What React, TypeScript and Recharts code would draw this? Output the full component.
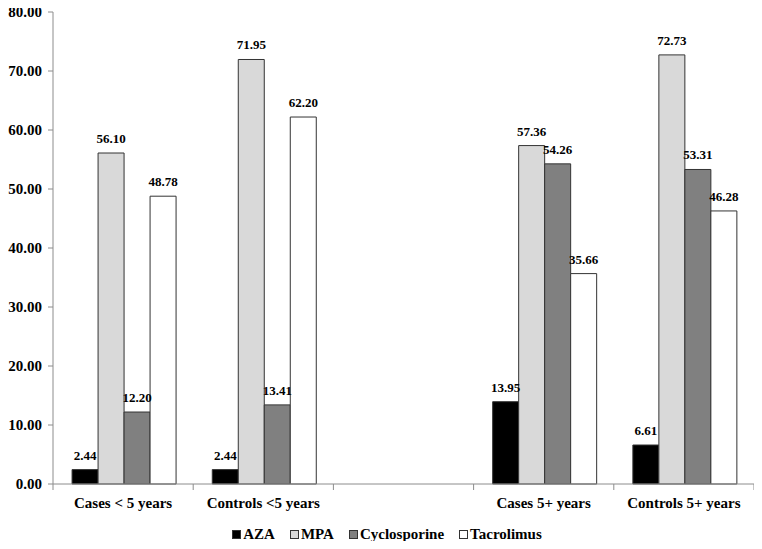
import React from "react";
import { BarChart, Bar, XAxis, YAxis, Legend, LabelList } from "recharts";

const categories = ["Cases < 5 years", "Controls <5 years", "", "Cases 5+ years", "Controls 5+ years"];
const aza = [2.44, 2.44, null, 13.95, 6.61];
const mpa = [56.1, 71.95, null, 57.36, 72.73];
const cyclosporine = [12.2, 13.41, null, 54.26, 53.31];
const tacrolimus = [48.78, 62.2, null, 35.66, 46.28];
const yTicks = [0, 10, 20, 30, 40, 50, 60, 70, 80];

const series = [
  { key: "AZA", fill: "#000000" },
  { key: "MPA", fill: "#d9d9d9" },
  { key: "Cyclosporine", fill: "#808080" },
  { key: "Tacrolimus", fill: "#ffffff" },
];

const data = categories.map((name, i) => ({
  name,
  AZA: aza[i],
  MPA: mpa[i],
  Cyclosporine: cyclosporine[i],
  Tacrolimus: tacrolimus[i],
}));

const FONT = "Liberation Serif, DejaVu Serif, serif";
const AXIS_COLOR = "#8c8c8c";
const X_TICK_SIZE = 6;
const X_TICK_MARGIN = 7;

const XTick = (props: any) => {
  const { x, y, payload, index } = props;
  const half = payload && payload.offset ? payload.offset : 70;
  const axisY = y - X_TICK_SIZE - X_TICK_MARGIN;
  const last = index === categories.length - 1;
  return (
    <g>
      <line x1={x - half} x2={x - half} y1={axisY} y2={axisY + X_TICK_SIZE} stroke={AXIS_COLOR} />
      {last && (
        <line x1={x + half} x2={x + half} y1={axisY} y2={axisY + X_TICK_SIZE} stroke={AXIS_COLOR} />
      )}
      <text
        x={x}
        y={y}
        dy="0.71em"
        textAnchor="middle"
        style={{ fontFamily: FONT, fontWeight: "bold", fontSize: 15 }}
        fill="#000"
      >
        {payload.value}
      </text>
    </g>
  );
};

const LegendContent = () => (
  <div
    style={{
      height: 22,
      boxSizing: "border-box",
      paddingTop: 8,
      paddingLeft: 12,
      display: "flex",
      justifyContent: "center",
      alignItems: "center",
      fontFamily: FONT,
      fontWeight: "bold",
      fontSize: 15,
      color: "#000",
    }}
  >
    {series.map((s, i) => (
      <div
        key={s.key}
        style={{ display: "flex", alignItems: "center", marginLeft: i === 0 ? 0 : 15 }}
      >
        <span
          style={{
            display: "inline-block",
            width: 7,
            height: 7,
            background: s.fill,
            border: "1px solid #333",
            marginRight: 2,
          }}
        />
        <span>{s.key}</span>
      </div>
    ))}
  </div>
);

export default function App() {
  return (
    <div style={{ marginTop: -8 }}>
      <BarChart
        width={746}
        height={541}
        data={data}
        margin={{ top: 12, right: 0, left: 0, bottom: 0 }}
        barCategoryGap="13.6%"
        barGap={0}
      >
        <XAxis
          dataKey="name"
          height={35}
          stroke={AXIS_COLOR}
          tickLine={false}
          tickSize={X_TICK_SIZE}
          tickMargin={X_TICK_MARGIN}
          tick={<XTick />}
          interval={0}
        />
        <YAxis
          width={45}
          domain={[0, 80]}
          ticks={yTicks}
          interval={0}
          tickFormatter={(v: number) => v.toFixed(2)}
          stroke={AXIS_COLOR}
          tickSize={5}
          tickMargin={6}
          tick={{ fill: "#000", style: { fontFamily: FONT, fontWeight: "bold", fontSize: 15 } } as any}
        />
        <Legend verticalAlign="bottom" height={22} content={<LegendContent />} />
        {series.map((s) => (
          <Bar
            key={s.key}
            dataKey={s.key}
            fill={s.fill}
            stroke="#333"
            strokeWidth={1}
            isAnimationActive={false}
          >
            <LabelList
              dataKey={s.key}
              position="top"
              offset={10}
              formatter={(v: any) => (v == null ? "" : Number(v).toFixed(2))}
              style={{ fontFamily: FONT, fontWeight: "bold", fontSize: 13, fill: "#000" }}
            />
          </Bar>
        ))}
      </BarChart>
    </div>
  );
}
